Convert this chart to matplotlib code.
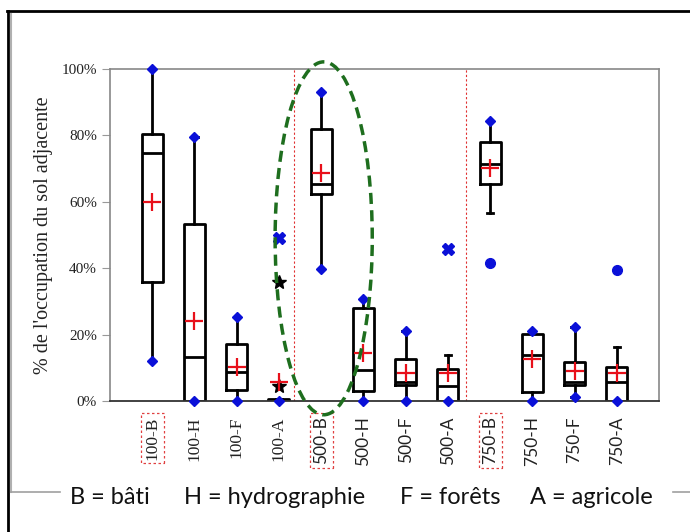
import numpy as np
import matplotlib.pyplot as plt
from matplotlib.patches import Ellipse
from matplotlib.lines import Line2D

### Data (percent)

labels = ["100-B", "100-H", "100-F", "100-A",
          "500-B", "500-H", "500-F", "500-A",
          "750-B", "750-H", "750-F", "750-A"]

whisker_lo = [12.0, 0.0, 0.0, 0.0, 39.9, 0.0, 0.0, 0.0, 56.5, 0.0, 1.3, 0.0]
q1 = [35.7, 0.0, 3.3, 0.0, 62.4, 3.1, 4.8, 0.0, 65.3, 2.6, 4.8, 0.0]
median = [74.6, 13.3, 8.8, 0.3, 65.4, 9.3, 5.6, 4.5, 71.3, 13.8, 5.6, 5.8]
q3 = [80.3, 53.2, 17.2, 0.7, 81.8, 28.1, 12.6, 9.5, 78.1, 20.2, 11.7, 10.2]
whisker_hi = [100.0, 79.5, 25.2, 0.7, 93.2, 30.7, 21.2, 14.0, 84.4, 21.2, 22.2, 16.2]
means = [60.0, 24.0, 10.3, 5.8, 68.8, 14.4, 8.5, 8.5, 70.1, 12.6, 9.1, 8.5]

# blue diamonds at min / max (None = plain cap)
min_pt = [12.0, 0.0, 0.0, 0.0, 39.9, 0.0, 0.0, 0.0, None, 0.0, 1.3, 0.0]
max_pt = [100.0, 79.5, 25.2, None, 93.2, 30.7, 21.2, None, 84.4, 21.2, 22.2, None]

# outliers: (category index, value)
out_blue_x = [(4, 49.2), (8, 45.8)]
out_black_star = [(4, 35.9), (4, 4.5)]
out_blue_dot = [(9, 41.5), (12, 39.5)]

sep_lines = [4.36, 8.43]

legend_items = ["B = bâti", "H = hydrographie", "F = forêts", "A = agricole"]
legend_x_px = [70, 184, 400, 530]

#### Plotting

W, H = 690, 532
fig = plt.figure(figsize=(W / 100, H / 100), dpi=100)
ax = fig.add_axes([110 / W, 1 - 401 / H, 549 / W, 332 / H])

pos = np.arange(1, len(labels) + 1)
stats = []
for i in range(len(labels)):
    stats.append(dict(med=median[i], q1=q1[i], q3=q3[i],
                      whislo=whisker_lo[i], whishi=whisker_hi[i], fliers=[]))

ax.bxp(stats, positions=pos, widths=0.5, showfliers=False,
       boxprops=dict(color="black", linewidth=2),
       medianprops=dict(color="black", linewidth=2),
       whiskerprops=dict(color="black", linewidth=2),
       capprops=dict(color="black", linewidth=2),
       capwidths=0.15, manage_ticks=False)

blue = "#0a10d8"
for i, v in enumerate(min_pt):
    if v is not None:
        ax.plot(pos[i], v, marker="D", color=blue, markersize=5, clip_on=False, zorder=5)
for i, v in enumerate(max_pt):
    if v is not None:
        ax.plot(pos[i], v, marker="D", color=blue, markersize=5, clip_on=False, zorder=5)

for k, v in out_blue_x:
    ax.plot(k, v, marker="X", color=blue, markersize=9, zorder=5)
for k, v in out_black_star:
    ax.plot(k, v, marker="*", color="black", markersize=10, zorder=5)
for k, v in out_blue_dot:
    ax.plot(k, v, marker="o", color=blue, markersize=7, zorder=5)

ax.plot(pos, means, linestyle="none", marker="+", color="#e8101a",
        markersize=13, markeredgewidth=1.6, zorder=6)

for xs in sep_lines:
    ax.axvline(xs, color="#e03030", linestyle=(0, (2, 2)), linewidth=0.8)

ell = Ellipse((5.06, 49.0), 2.30, 106.3, fill=False, edgecolor="#1e6e1e",
              linewidth=2.5, linestyle=(0, (3.2, 1.8)), clip_on=False, zorder=7)
ax.add_patch(ell)

ax.set_xlim(0, 13)
ax.set_ylim(0, 100)
ax.set_yticks(np.arange(0, 101, 20))
ax.set_yticklabels([f"{t}%" for t in range(0, 101, 20)],
                   family="Liberation Serif", fontsize=11, color="#222222")
ax.set_xticks(pos)
ax.set_xticklabels(labels, rotation=90, fontsize=12.5)
for i, t in enumerate(ax.get_xticklabels()):
    t.set_family("Liberation Serif" if i < 4 else "Lato")
    t.set_color("#222222")
    if labels[i].endswith("B"):
        t.set_bbox(dict(facecolor="none", edgecolor="#e04040",
                        linestyle=(0, (2, 2)), linewidth=0.9, pad=2.5))
ax.tick_params(axis="x", length=0, pad=11)
ax.tick_params(axis="y", length=6, color="#999999", direction="out")

for s in ["top", "right", "left"]:
    ax.spines[s].set_color("#888888")
    ax.spines[s].set_linewidth(1.2)
ax.spines["bottom"].set_color("#333333")
ax.spines["bottom"].set_linewidth(1.3)

ax.set_ylabel("% de l'occupation du sol adjacente", family="Liberation Serif",
              fontsize=14.5, labelpad=6, color="#222222")

# legend text line
for txt, xp in zip(legend_items, legend_x_px):
    fig.text(xp / W, 1 - 497 / H, txt, family="Lato", fontsize=17,
             ha="left", va="center", color="#111111")

# frame around the figure
def px_line(x0, y0, x1, y1, color, lw):
    fig.add_artist(Line2D([x0 / W, x1 / W], [1 - y0 / H, 1 - y1 / H],
                          color=color, linewidth=lw))

px_line(7, 11, 690, 11, "black", 2)
px_line(8, 11, 8, 532, "black", 2)
px_line(11, 14, 11, 492, "#b0b0b0", 1.5)
px_line(11, 492, 60, 492, "#a0a0a0", 1.2)
px_line(673, 492, 690, 492, "#a0a0a0", 1.2)

fig.savefig("out.png", dpi=100)
